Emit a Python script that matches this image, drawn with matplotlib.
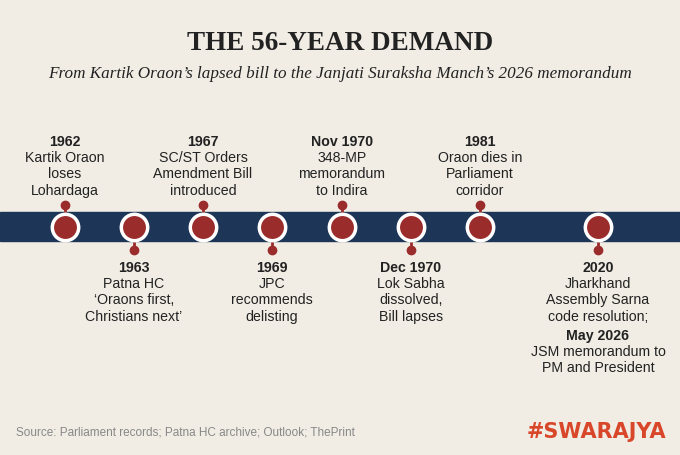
import matplotlib
matplotlib.use("Agg")
import matplotlib.pyplot as plt
from matplotlib.patches import Rectangle

years = ["1962", "1963", "1967", "1969", "Nov 1970", "Dec 1970", "1981", "2020"]
descs = ["Kartik Oraon\nloses\nLohardaga",
         "Patna HC\n‘Oraons first,\nChristians next’",
         "SC/ST Orders\nAmendment Bill\nintroduced",
         "JPC\nrecommends\ndelisting",
         "348-MP\nmemorandum\nto Indira",
         "Lok Sabha\ndissolved,\nBill lapses",
         "Oraon dies in\nParliament\ncorridor",
         "Jharkhand\nAssembly Sarna\ncode resolution;"]
sides = ["up", "down", "up", "down", "up", "down", "up", "down"]
xpos = [65, 134, 203, 272, 342, 411, 480, 598]

BG = "#f1ede4"; NAVY = "#1d3557"; RED = "#9b2c2c"; TXT = "#222222"
plt.rcParams['font.family'] = ['Liberation Sans', 'DejaVu Sans']

fig = plt.figure(figsize=(6.8, 4.56), dpi=100, facecolor=BG)
ax = fig.add_axes([0, 0, 1, 1]); ax.set_xlim(0, 680); ax.set_ylim(456, 0); ax.axis('off')

ax.text(340, 44, "THE 56-YEAR DEMAND", ha='center', va='center', fontsize=19.5,
        fontweight='bold', family=['Liberation Serif'], color=TXT)
ax.text(340, 74, "From Kartik Oraon’s lapsed bill to the Janjati Suraksha Manch’s 2026 memorandum",
        ha='center', va='center', fontsize=12.3, style='italic', family=['Liberation Serif'], color=TXT)

ax.add_patch(Rectangle((0, 213), 680, 29, color=NAVY, zorder=1))
yc = 227.5
LS = 1.22
FS = 10.2
for x, yr, d, s in zip(xpos, years, descs, sides):
    ye = 206 if s == "up" else 251
    ax.plot([x, x], [yc, ye], color=RED, lw=2, zorder=2)
    ax.plot(x, ye, 'o', ms=6, color=RED, zorder=3)
    ax.plot(x, yc, 'o', ms=19, color=RED, mec='white', mew=2.5, zorder=4)
    y0 = 142 if s == "up" else 268
    ax.text(x, y0, yr, ha='center', va='center', fontsize=FS, fontweight='bold', color=TXT)
    ax.text(x, y0 + 9, d, ha='center', va='top', fontsize=FS, color=TXT, linespacing=LS)

ax.text(598, 336, "May 2026", ha='center', va='center', fontsize=FS, fontweight='bold', color=TXT)
ax.text(598, 345, "JSM memorandum to\nPM and President", ha='center', va='top', fontsize=FS,
        color=TXT, linespacing=LS)

ax.text(16, 433, "Source: Parliament records; Patna HC archive; Outlook; ThePrint",
        ha='left', va='center', fontsize=8.5, color="#888888")
ax.text(666, 432, "#SWARAJYA", ha='right', va='center', fontsize=15, fontweight='bold',
        color="#d9472b", family=['DejaVu Sans'])

fig.savefig("out.png", dpi=100, facecolor=BG)
